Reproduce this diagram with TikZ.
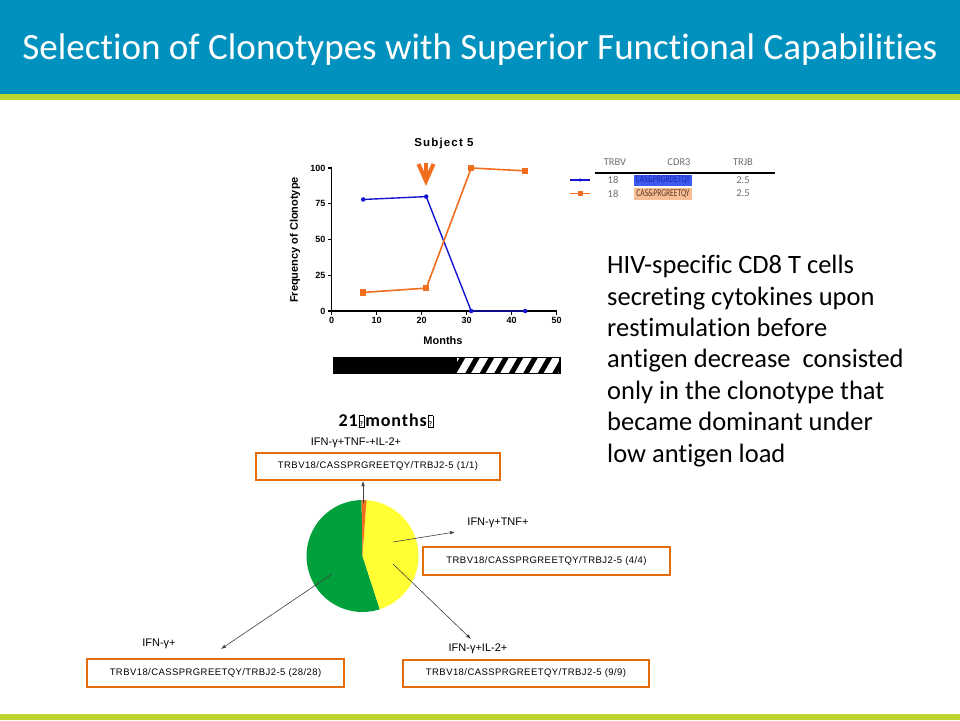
\documentclass[tikz,border=0pt]{standalone}
\usepackage{fontspec}
\setmainfont[Ligatures={NoCommon,NoRare,NoContextual},Contextuals=NoAlternate]{Carlito}
\newfontfamily\arial{Liberation Sans}
\newfontfamily\boxfont[LetterSpace=4.5]{Liberation Sans}
\newfontfamily\subjfont[LetterSpace=10]{Liberation Sans}
\newfontfamily\pietitlefont[LetterSpace=5]{Carlito}
\usetikzlibrary{arrows.meta,calc}
\definecolor{hdrblue}{RGB}{0,145,190}
\definecolor{lime}{RGB}{190,212,48}
\definecolor{pblue}{RGB}{20,20,210}
\definecolor{porange}{RGB}{240,110,30}
\definecolor{boxorange}{RGB}{228,108,10}
\definecolor{pgreen}{RGB}{0,160,60}
\definecolor{pyellow}{RGB}{255,255,51}
\definecolor{cellblue}{RGB}{60,90,240}
\definecolor{cellpeach}{RGB}{250,190,150}
\definecolor{legtext}{RGB}{110,110,110}
\newcommand{\missingglyph}{\hspace{1pt}{\fboxsep=0.6pt\fboxrule=0.6pt\fbox{\rule{0pt}{10pt}\fontsize{7}{8}\selectfont ?}}\hspace{1pt}}
\begin{document}
\begin{tikzpicture}[x=1pt,y=-1pt,
  seqbox/.style={draw=boxorange,line width=2pt,inner sep=0pt,font=\boxfont\fontsize{9.5}{11}\selectfont},
  poplabel/.style={inner sep=0pt,font=\arial\fontsize{11}{13}\selectfont},
  pointer/.style={draw=black!75,line width=0.6pt,-{Latex[length=5pt,width=3.5pt]}},
  ticklab/.style={inner sep=0pt,font=\arial\bfseries\fontsize{9}{10}\selectfont},
  axlab/.style={inner sep=0pt,font=\arial\bfseries\fontsize{11}{12}\selectfont},
  legtxt/.style={inner sep=0pt,font=\fontsize{10.5}{12}\selectfont,text=legtext},
  cdrtxt/.style={inner sep=0pt,font=\fontsize{10.5}{12}\selectfont,xscale=0.72},
  bluept/.style={circle,fill=pblue,inner sep=0pt,minimum size=4.5pt},
  orpt/.style={rectangle,fill=porange,inner sep=0pt,minimum size=6.5pt},
  ]
\useasboundingbox (0,0) rectangle (960,720);
\fill[white] (0,0) rectangle (960,720);
% header
\fill[hdrblue] (0,0) rectangle (960,94);
\fill[lime] (0,94) rectangle (960,100);
\fill[lime] (0,714) rectangle (960,720);
\node[text=white,inner sep=0pt,font=\fontsize{37.1}{40}\selectfont] (title) at (480,50) {Selection of Clonotypes with Superior Functional Capabilities};

% right text
\node[anchor=north west,inner sep=0pt,align=left,font=\fontsize{26.5}{31.4}\selectfont] (desc) at (607,255)
 {HIV-specific CD8 T cells\\secreting cytokines upon\\restimulation before\\antigen decrease\ \ consisted\\only in the clonotype that\\became dominant under\\low antigen load};

% chart
\node[inner sep=0pt,font=\subjfont\bfseries\fontsize{11.5}{13}\selectfont] (subj) at (444,144) {Subject 5};
\node[axlab] (months) at (443,341) {Months};
\node[axlab,rotate=90] (freq) at (295,240) {Frequency of Clonotype};
\begin{scope}[xshift=331.7pt,yshift=-311pt,x=4.5pt,y=1.43pt]
  \draw[line width=1.3pt] (0,0) -- (0,100);
  \draw[line width=1.3pt] (0,0) -- (50,0);
  \foreach \v in {0,25,50,75,100} {
    \draw[line width=1.2pt] (0,\v) -- ++(-4pt,0);
    \node[ticklab,anchor=east] (yl\v) at ($(0,\v)+(-6pt,0)$) {\v};
  }
  \foreach \m in {0,10,20,30,40,50} {
    \draw[line width=1.2pt] (\m,0) -- ++(0,-4pt);
    \node[ticklab,anchor=north] (xl\m) at ($(\m,0)+(0,-6pt)$) {\m};
  }
  % blue series
  \node[bluept] (b1) at (7,78) {};
  \node[bluept] (b2) at (21,80) {};
  \node[bluept] (b3) at (31,0) {};
  \node[bluept] (b4) at (43,0) {};
  % orange series
  \node[orpt] (o1) at (7,13) {};
  \node[orpt] (o2) at (21,16) {};
  \node[orpt] (o3) at (31,100) {};
  \node[orpt] (o4) at (43,98) {};
  \draw[pblue,line width=1.4pt] (b1.center) -- (b2.center) -- (b3.center) -- (b4.center);
  \draw[porange,line width=1.6pt] (o1.center) -- (o2.center) -- (o3.center) -- (o4.center);
\end{scope}
% orange marker arrow
\draw[porange,line width=4pt] (418.5,164) -- (426,181) -- (433.5,164);
\draw[porange,line width=3.5pt] (426,163) -- (426,178);

% bar
\fill[black] (334,357.7) rectangle (456.7,373.3);
\begin{scope}
  \clip (456.7,357.7) rectangle (560,373.3);
  \foreach \i in {0,...,8} {
    \draw[line width=5pt] (452+\i*14.5,376) -- (464+\i*14.5,355);
  }
\end{scope}
\draw[line width=1.5pt] (334,357.7) rectangle (560,373.3);

% legend
\node[legtxt] (hTRBV) at (615,162) {TRBV};
\node[legtxt] (hCDR) at (679,162) {CDR3};
\node[legtxt] (hTRJB) at (743,162) {TRJB};
\draw[line width=1.2pt] (595,173) -- (775,173);
\fill[cellblue] (634,174.5) rectangle (692,186);
\fill[cellpeach] (634,188) rectangle (692,199.5);
\node[bluept,minimum size=3.5pt] (lb) at (580,180) {};
\node[orpt,minimum size=5pt] (lo) at (580,193.5) {};
\draw[pblue,line width=1.4pt] ($(lb)+(-10,0)$) -- ($(lb)+(10,0)$);
\draw[porange,line width=1.8pt] ($(lo)+(-10,0)$) -- ($(lo)+(10,0)$);
\node[legtxt] (r1v) at (613,180) {18};
\node[cdrtxt,text={rgb,255:red,30;green,40;blue,170}] (r1c) at (663,180) {CAS\&PRGRDETQY};
\node[legtxt] (r1j) at (743,180) {2.5};
\node[legtxt] (r2v) at (613,193.5) {18};
\node[cdrtxt,text={rgb,255:red,90;green,60;blue,40}] (r2c) at (663,193.5) {CAS\&PRGREETQY};
\node[legtxt] (r2j) at (743,193.5) {2.5};

% pie
\node[inner sep=0pt,font=\pietitlefont\bfseries\fontsize{18}{21}\selectfont] (pietitle) at (386,421)
  {21\missingglyph months\missingglyph};
\coordinate (pc) at (362.5,556);
\fill[pgreen] (pc) -- ($(pc)+(91:56pt)$) arc[start angle=91,end angle=288,radius=56pt] -- cycle;
\fill[pyellow] (pc) -- ($(pc)+(-72:56pt)$) arc[start angle=-72,end angle=86,radius=56pt] -- cycle;
\fill[porange] (pc) -- ($(pc)+(86:56pt)$) arc[start angle=86,end angle=91,radius=56pt] -- cycle;

% labels and boxes
\node[poplabel] (l1) at (356,443) {IFN-γ+TNF-+IL-2+};
\node[seqbox,minimum width=244pt,minimum height=27pt] (box1) at (378,466.5) {TRBV18/CASSPRGREETQY/TRBJ2-5 (1/1)};
\node[poplabel] (l2) at (498,523) {IFN-γ+TNF+};
\node[seqbox,minimum width=247pt,minimum height=28pt] (box2) at (546.5,561) {TRBV18/CASSPRGREETQY/TRBJ2-5 (4/4)};
\node[poplabel] (l3) at (478,649) {IFN-γ+IL-2+};
\node[seqbox,minimum width=246pt,minimum height=27pt] (box3) at (526,673.5) {TRBV18/CASSPRGREETQY/TRBJ2-5 (9/9)};
\node[poplabel] (l4) at (159,644) {IFN-γ+};
\node[seqbox,minimum width=257pt,minimum height=28pt] (box4) at (215.5,673) {TRBV18/CASSPRGREETQY/TRBJ2-5 (28/28)};

% pointers
\coordinate (s1) at (363,503);
\coordinate (s2) at (393,542);
\coordinate (e2) at (455,532);
\coordinate (s3) at (393,564);
\coordinate (e3) at (471,639);
\coordinate (s4) at (332,574);
\coordinate (e4) at (221,649);
\draw[pointer] (s1) -- (s1 |- box1.south);
\draw[pointer] (s2) -- (e2);
\draw[pointer] (s3) -- (e3);
\draw[pointer] (s4) -- (e4);
\end{tikzpicture}
\end{document}
